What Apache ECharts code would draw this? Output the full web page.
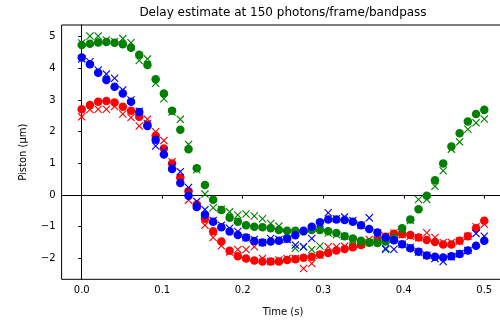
<!DOCTYPE html>
<html>
<head>
<meta charset="utf-8">
<script src="https://cdn.jsdelivr.net/npm/echarts@6/dist/echarts.min.js"></script>
<style>html,body{margin:0;padding:0;background:#fff}#c{width:500px;height:321px}</style>
</head>
<body>
<div id="c"></div>
<script>
const title = 'Delay estimate at 150 photons/frame/bandpass';
const xName = 'Time (s)';
const yName = 'Piston (\u03bcm)';
const xTicks = [0, 0.1, 0.2, 0.3, 0.4, 0.5];
const yTicks = [-2, -1, 0, 1, 2, 3, 4, 5];
const nPoints = 50;
const times = Array.from({length: nPoints}, (_, i) => i * 0.5 / (nPoints - 1));

const redDots = [2.71,2.84,2.95,2.97,2.92,2.79,2.66,2.47,2.21,1.87,1.47,1.0,0.55,0.12,-0.3,-0.75,-1.14,-1.47,-1.76,-1.93,-2.0,-2.07,-2.1,-2.1,-2.1,-2.05,-2.03,-1.98,-1.95,-1.88,-1.83,-1.75,-1.7,-1.65,-1.58,-1.5,-1.42,-1.32,-1.22,-1.23,-1.26,-1.34,-1.42,-1.48,-1.56,-1.56,-1.44,-1.3,-1.05,-0.81];
const redCross = [2.47,2.7,2.71,2.71,2.8,2.56,2.45,2.18,2.39,2.0,1.72,1.05,0.5,-0.16,-0.35,-0.95,-1.34,-1.6,-1.8,-1.72,-1.72,-1.63,-2.0,-2.1,-2.05,-2.0,-2.0,-2.32,-2.16,-1.9,-1.63,-1.63,-1.62,-1.6,-1.55,-1.4,-1.45,-1.3,-1.2,-1.25,-1.3,-1.35,-1.19,-1.34,-1.5,-1.5,-1.45,-1.3,-1.0,-0.92];
const greenDots = [4.74,4.78,4.82,4.83,4.81,4.76,4.65,4.43,4.11,3.66,3.21,2.66,2.06,1.45,0.85,0.32,-0.15,-0.47,-0.72,-0.84,-0.95,-1.0,-1.02,-1.05,-1.1,-1.13,-1.13,-1.15,-1.1,-1.1,-1.14,-1.2,-1.3,-1.37,-1.44,-1.5,-1.51,-1.47,-1.35,-1.05,-0.77,-0.45,-0.02,0.47,1.0,1.53,1.95,2.32,2.56,2.69];
const greenCross = [4.8,5.02,5.02,4.9,4.85,4.94,4.81,4.25,4.3,3.53,3.04,2.62,2.39,1.6,0.8,0.03,-0.4,-0.45,-0.53,-0.63,-0.6,-0.66,-0.75,-0.9,-0.98,-1.2,-1.68,-1.63,-1.72,-1.61,-1.2,-1.25,-1.3,-1.45,-1.5,-1.5,-1.45,-1.72,-1.4,-1.1,-0.8,-0.14,-0.14,0.28,0.77,1.45,1.68,2.08,2.28,2.4];
const blueDots = [4.34,4.13,3.86,3.63,3.42,3.21,2.95,2.62,2.18,1.75,1.28,0.82,0.38,-0.02,-0.38,-0.62,-0.84,-1.02,-1.15,-1.26,-1.34,-1.45,-1.5,-1.47,-1.44,-1.38,-1.27,-1.13,-1.0,-0.86,-0.77,-0.77,-0.79,-0.84,-0.95,-1.07,-1.18,-1.34,-1.43,-1.55,-1.68,-1.79,-1.91,-1.95,-1.97,-1.93,-1.86,-1.75,-1.6,-1.44];
const blueCross = [4.3,4.21,3.95,3.82,3.69,3.32,3.0,2.65,2.25,1.55,1.4,0.9,0.74,0.24,-0.2,-0.46,-0.8,-0.95,-1.05,-1.15,-1.35,-1.4,-1.5,-1.37,-1.4,-1.4,-1.58,-1.63,-1.37,-0.9,-0.56,-0.75,-0.69,-0.8,-0.95,-0.72,-1.2,-1.69,-1.71,-1.55,-1.65,-1.8,-1.9,-2.0,-2.1,-1.95,-1.85,-1.75,-1.21,-1.3];

const xPath = 'path://M1,0 L5,4 L9,0 L10,1 L6,5 L10,9 L9,10 L5,6 L1,10 L0,9 L4,5 L0,1 Z';
function pts(v){ return times.map((t,i)=>[t, v[i]]); }
function dots(v, c){ return {type:'scatter', data: pts(v), symbol:'circle', symbolSize:8.5, itemStyle:{color:c, opacity:1}, silent:true, animation:false}; }
function cross(v, c){ return {type:'scatter', data: pts(v), symbol:xPath, symbolSize:8, itemStyle:{color:c, opacity:1}, silent:true, animation:false}; }

const font = 'DejaVu Sans';
const chart = echarts.init(document.getElementById('c'), null, {renderer:'canvas'});
chart.setOption({
  animation:false,
  backgroundColor:'#fff',
  textStyle:{fontFamily:font},
  grid:{left:61.6, top:25, width:442.8, height:254.3, outerBoundsMode:'none', containLabel:false, show:true, borderColor:'#000', borderWidth:1, backgroundColor:'transparent'},
  graphic:[{type:'text', x:283, y:13, style:{text:title, font:'12px "DejaVu Sans"', fill:'#000', textAlign:'center', textVerticalAlign:'middle'}}],
  xAxis:{type:'value', min:-0.025, max:0.525, name:xName, nameLocation:'middle', nameGap:28,
    nameTextStyle:{fontFamily:font, fontSize:10, color:'#000'},
    axisLine:{show:true, lineStyle:{color:'#000', width:1}},
    axisTick:{show:true, length:3.5, customValues:xTicks, lineStyle:{color:'#000', width:1}},
    axisLabel:{customValues:xTicks, formatter:v=>v.toFixed(1), fontFamily:font, fontSize:10, color:'#000', margin:6},
    splitLine:{show:false}},
  yAxis:{type:'value', min:-2.66, max:5.37, name:yName, nameLocation:'middle', nameGap:33,
    nameTextStyle:{fontFamily:font, fontSize:10, color:'#000'},
    axisLine:{show:true, lineStyle:{color:'#000', width:1}},
    axisTick:{show:true, length:3.5, customValues:yTicks, lineStyle:{color:'#000', width:1}},
    axisLabel:{customValues:yTicks, formatter:v=>String(v).replace('-', '\u2212'), fontFamily:font, fontSize:10, color:'#000', margin:6},
    splitLine:{show:false}},
  series:[
    dots(redDots,'#ff0000'), cross(redCross,'#ff0000'),
    dots(greenDots,'#008000'), cross(greenCross,'#008000'),
    dots(blueDots,'#0000ff'), cross(blueCross,'#0000ff')
  ]
});
</script>
</body>
</html>
